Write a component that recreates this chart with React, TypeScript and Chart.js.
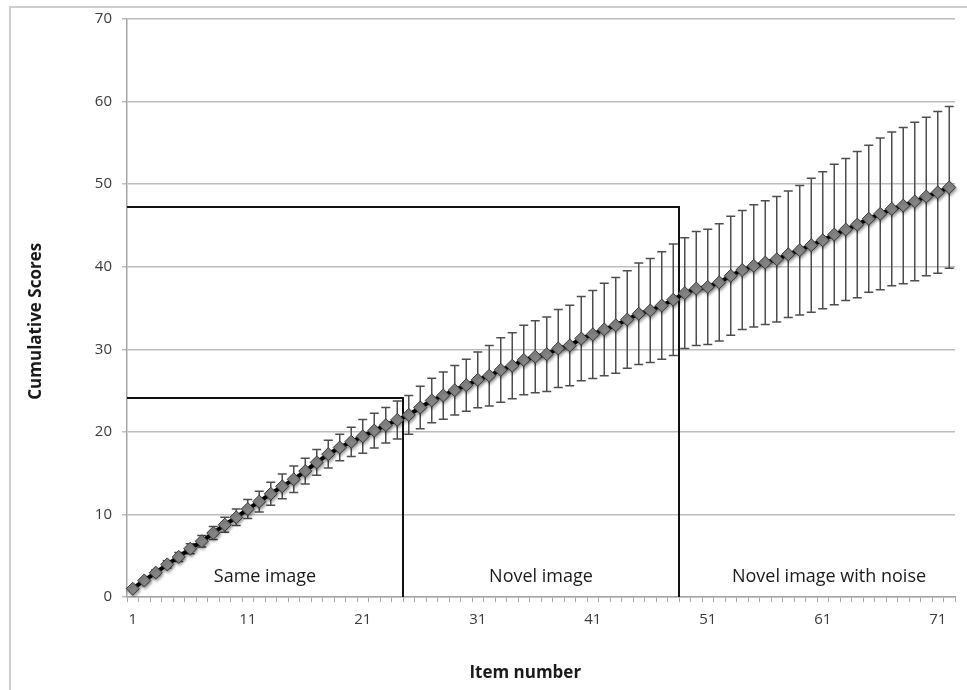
import { useEffect, useRef } from 'react';
import { Chart, registerables } from 'chart.js';

Chart.register(...registerables);

// Item numbers 1..72 on the category axis
const ITEMS: string[] = Array.from({ length: 72 }, (_, i) => String(i + 1));

// Only these item numbers get a visible tick label
const X_TICK_LABELS = ['1', '11', '21', '31', '41', '51', '61', '71'];

// Mean cumulative score per item
const MEAN_SCORES = [
  1.0, 2.0, 2.95, 3.95, 4.85, 5.85, 6.75, 7.75, 8.75, 9.65,
  10.65, 11.55, 12.5, 13.4, 14.25, 15.25, 16.3, 17.3, 18.1, 18.8,
  19.45, 20.15, 20.8, 21.45, 22.05, 22.95, 23.8, 24.4, 25.05, 25.65,
  26.3, 26.8, 27.5, 28.0, 28.7, 29.1, 29.4, 30.1, 30.45, 31.3,
  31.8, 32.4, 32.9, 33.6, 34.3, 34.7, 35.3, 36.0, 36.8, 37.35,
  37.55, 38.1, 38.9, 39.6, 40.1, 40.5, 40.9, 41.5, 42.0, 42.6,
  43.2, 43.9, 44.5, 45.1, 45.8, 46.4, 47.0, 47.4, 47.9, 48.5,
  49.0, 49.6,
];

// Error (±) per item
const SCORE_ERRORS = [
  0.15, 0.25, 0.35, 0.45, 0.55, 0.6, 0.7, 0.8, 0.9, 1.0,
  1.15, 1.25, 1.4, 1.5, 1.6, 1.55, 1.57, 1.67, 1.6, 1.77,
  2.05, 2.1, 2.15, 2.3, 2.35, 2.57, 2.7, 2.86, 3.0, 3.14,
  3.38, 3.66, 3.9, 4.0, 4.2, 4.35, 4.5, 4.73, 4.87, 5.1,
  5.33, 5.6, 5.8, 5.9, 6.15, 6.3, 6.5, 6.75, 6.7, 6.9,
  6.98, 7.1, 7.2, 7.2, 7.4, 7.5, 7.6, 7.66, 7.85, 8.1,
  8.3, 8.5, 8.6, 8.85, 8.9, 9.2, 9.3, 9.45, 9.6, 9.6,
  9.8, 9.8,
];

// Experimental phases: name and last item of each
const PHASE_NAMES = ['Same image', 'Novel image', 'Novel image with noise'];
const PHASE_LAST_ITEM = [24, 48, 72];
// Reference level drawn for the first two phases
const PHASE_REFERENCE = [24.1, 47.2];

const Y_MIN = 0;
const Y_MAX = 70;
const Y_STEP = 10;

const FONT = '"Open Sans", "Noto Sans", sans-serif';

function boundaryPixel(chart: any, lastItem: number): number {
  const x = chart.scales.x;
  if (lastItem >= ITEMS.length) return chart.chartArea.right;
  const a = x.getPixelForValue(lastItem - 1);
  const b = x.getPixelForValue(lastItem);
  return (a + b) / 2;
}

const framePlugin = {
  id: 'frame',
  beforeDraw(chart: any) {
    const { ctx, width, height } = chart;
    ctx.save();
    ctx.fillStyle = '#ffffff';
    ctx.fillRect(0, 0, width, height);
    ctx.strokeStyle = '#cfcfcf';
    ctx.lineWidth = 2;
    ctx.beginPath();
    ctx.moveTo(10, height + 2);
    ctx.lineTo(10, 7);
    ctx.lineTo(width + 2, 7);
    ctx.stroke();
    ctx.restore();
  },
};

const phasePlugin = {
  id: 'phases',
  beforeDatasetsDraw(chart: any) {
    const { ctx } = chart;
    const y = chart.scales.y;
    const area = chart.chartArea;
    const y0 = y.getPixelForValue(0);
    ctx.save();
    ctx.strokeStyle = '#111111';
    ctx.lineWidth = 2;
    PHASE_REFERENCE.forEach((level, k) => {
      const bx = Math.round(boundaryPixel(chart, PHASE_LAST_ITEM[k]));
      const ly = Math.round(y.getPixelForValue(level));
      ctx.beginPath();
      ctx.moveTo(area.left, ly);
      ctx.lineTo(bx, ly);
      ctx.lineTo(bx, y0);
      ctx.stroke();
    });
    // phase names
    ctx.fillStyle = '#1a1a1a';
    ctx.font = `18px ${FONT}`;
    ctx.textAlign = 'center';
    ctx.textBaseline = 'middle';
    let left = area.left;
    PHASE_NAMES.forEach((name, k) => {
      const right = boundaryPixel(chart, PHASE_LAST_ITEM[k]);
      ctx.fillText(name, (left + right) / 2 + (k === 2 ? 12 : 0), y0 - 20);
      left = right;
    });
    ctx.restore();
  },
};

const errorBarPlugin = {
  id: 'errorBars',
  beforeDatasetsDraw(chart: any) {
    const { ctx } = chart;
    const x = chart.scales.x;
    const y = chart.scales.y;
    ctx.save();
    ctx.strokeStyle = '#4d4d4d';
    ctx.lineWidth = 1.5;
    const cap = 4.5;
    MEAN_SCORES.forEach((m, i) => {
      const e = SCORE_ERRORS[i];
      const px = x.getPixelForValue(i);
      const top = y.getPixelForValue(m + e);
      const bot = y.getPixelForValue(m - e);
      ctx.beginPath();
      ctx.moveTo(px, top);
      ctx.lineTo(px, bot);
      ctx.moveTo(px - cap, top);
      ctx.lineTo(px + cap, top);
      ctx.moveTo(px - cap, bot);
      ctx.lineTo(px + cap, bot);
      ctx.stroke();
    });
    ctx.restore();
  },
};

const shadowPlugin = {
  id: 'markerShadow',
  beforeDatasetDraw(chart: any) {
    const { ctx } = chart;
    ctx.save();
    ctx.shadowColor = 'rgba(0,0,0,0.35)';
    ctx.shadowBlur = 3;
    ctx.shadowOffsetX = 1;
    ctx.shadowOffsetY = 2;
  },
  afterDatasetDraw(chart: any) {
    chart.ctx.restore();
  },
};

const titlePlugin = {
  id: 'axisTitles',
  afterDraw(chart: any) {
    const { ctx } = chart;
    const area = chart.chartArea;
    ctx.save();
    ctx.fillStyle = '#1a1a1a';
    ctx.font = `bold 17px ${FONT}`;
    ctx.textAlign = 'center';
    ctx.textBaseline = 'middle';
    ctx.fillText('Item number', area.left + area.width * 0.481, 673);
    ctx.translate(36, area.top + area.height * 0.523);
    ctx.rotate(-Math.PI / 2);
    ctx.fillText('Cumulative Scores', 0, 0);
    ctx.restore();
  },
};

export default function App() {
  const canvasRef = useRef<HTMLCanvasElement | null>(null);

  useEffect(() => {
    const canvas = canvasRef.current;
    if (!canvas) return;
    const chart = new Chart(canvas, {
      type: 'line',
      data: {
        labels: ITEMS,
        datasets: [
          {
            label: 'Cumulative score',
            data: MEAN_SCORES,
            borderColor: '#000000',
            borderWidth: 4,
            pointStyle: 'rectRot',
            pointRadius: 6.5,
            pointBackgroundColor: '#858585',
            pointBorderColor: '#3a3a3a',
            pointBorderWidth: 1,
            tension: 0,
            fill: false,
          },
        ],
      },
      options: {
        responsive: false,
        animation: false,
        events: [],
        layout: { padding: { left: 0, right: 12, top: 17, bottom: 0 } },
        plugins: {
          legend: { display: false },
          tooltip: { enabled: false },
        },
        scales: {
          x: {
            type: 'category',
            offset: true,
            grid: {
              offset: true,
              drawOnChartArea: false,
              drawTicks: true,
              tickLength: 5,
              color: '#a6a6a6',
              lineWidth: 1,
            },
            border: { display: true, color: '#a6a6a6', width: 1.5 },
            ticks: {
              autoSkip: false,
              maxRotation: 0,
              minRotation: 0,
              padding: 9,
              color: '#3a3a3a',
              font: { family: FONT, size: 15 },
              callback: (_v: any, index: number) =>
                X_TICK_LABELS.includes(ITEMS[index]) ? ITEMS[index] : '',
            },
            afterFit: (scale: any) => {
              scale.height = 93;
            },
          },
          y: {
            min: Y_MIN,
            max: Y_MAX,
            grid: {
              color: '#bdbdbd',
              lineWidth: 1.5,
              drawTicks: true,
              tickLength: 5,
            },
            border: { display: true, color: '#a6a6a6', width: 1.5 },
            ticks: {
              stepSize: Y_STEP,
              padding: 10,
              color: '#3a3a3a',
              font: { family: FONT, size: 15 },
            },
            afterFit: (scale: any) => {
              scale.width = 127;
            },
          },
        },
      },
      plugins: [framePlugin, phasePlugin, errorBarPlugin, shadowPlugin, titlePlugin],
    });
    return () => chart.destroy();
  }, []);

  return (
    <div style={{ position: 'absolute', left: 0, top: 0, width: 967, height: 690 }}>
      <canvas ref={canvasRef} width={967} height={690} style={{ width: 967, height: 690, display: 'block' }} />
    </div>
  );
}
